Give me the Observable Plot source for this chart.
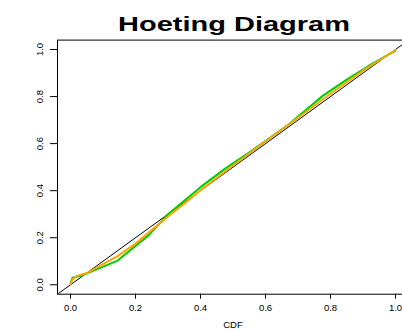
<!DOCTYPE html>
<html>
<head>
<meta charset="utf-8">
<script src="https://cdn.jsdelivr.net/npm/d3@7"></script>
<script src="https://cdn.jsdelivr.net/npm/@observablehq/plot@0.6"></script>
<style>
  html, body { margin: 0; padding: 0; overflow: hidden; background: #fff; }
  #title {
    box-sizing: border-box; width: 402px; height: 38px; padding-top: 12px; padding-left: 66px;
    text-align: center; font-family: "Liberation Sans", Arial, sans-serif; font-weight: bold;
    font-size: 21px; line-height: 24px; color: #000; white-space: nowrap;
  }
  #title span { display: inline-block; transform: scaleX(1.38); transform-origin: center; }
  #chart { width: 410px; height: 292px; }
  #chart svg { display: block; max-width: none !important; width: 410px; height: 292px; }
</style>
</head>
<body>
<div id="title"><span>Hoeting Diagram</span></div>
<div id="chart"></div>
<script>
const titleText = "Hoeting Diagram";
const xLabel = "CDF";
const axisDomain = [-0.04, 1.04];
const xTicks = [0, 0.2, 0.4, 0.6, 0.8, 1.0];
const yTicks = [0, 0.2, 0.4, 0.6, 0.8, 1.0];

// Green (empirical) series
const greenX = [0, 0.006, 0.04, 0.145, 0.24, 0.3, 0.4, 0.477, 0.554, 0.67, 0.778, 0.85, 0.917, 1.0];
const greenY = [0.005, 0.03, 0.042, 0.103, 0.21, 0.3, 0.415, 0.495, 0.566, 0.68, 0.805, 0.872, 0.93, 0.995];

// Orange (smoothed) series
const orangeX = [0, 0.006, 0.02, 0.05, 0.1, 0.145, 0.2, 0.26, 0.3, 0.35, 0.4, 0.5, 0.6, 0.7, 0.8, 0.9, 1.0];
const orangeY = [0.004, 0.022, 0.038, 0.05, 0.088, 0.122, 0.175, 0.245, 0.29, 0.345, 0.402, 0.507, 0.61, 0.71, 0.812, 0.91, 0.998];

const green = greenX.map((x, i) => ({x, y: greenY[i]}));
const orange = orangeX.map((x, i) => ({x, y: orangeY[i]}));
const diag = axisDomain.map(v => ({x: v, y: v}));
const fmt = d3.format(".1f");

const chart = Plot.plot({
  width: 410,
  height: 292,
  marginLeft: 57,
  marginRight: 2,
  marginTop: 1.6,
  marginBottom: 36.3,
  style: {fontFamily: "Liberation Sans, Arial, sans-serif", fontSize: "9.5px", color: "#000", background: "#fff"},
  x: {domain: axisDomain},
  y: {domain: axisDomain},
  marks: [
    Plot.line(diag, {x: "x", y: "y", stroke: "black", strokeWidth: 1, clip: true}),
    Plot.line(green, {x: "x", y: "y", stroke: "#00CD00", strokeWidth: 2}),
    Plot.line(orange, {x: "x", y: "y", stroke: "#FFA500", strokeWidth: 2}),
    Plot.frame({stroke: "black", strokeWidth: 1}),
    Plot.axisX({ticks: xTicks, tickSize: 5, tickPadding: 5.5, tickFormat: fmt, label: null, stroke: "black", fill: "black"}),
    Plot.axisY({ticks: yTicks, tickSize: 7, label: null, stroke: "black", fill: "none"}),
    Plot.text(yTicks, {y: d => d, frameAnchor: "left", dx: -17.5, rotate: -90, text: d => fmt(d), textAnchor: "middle", lineAnchor: "middle", fill: "black", fontSize: 9.5}),
    Plot.text([xLabel], {frameAnchor: "bottom", dy: 31, text: d => d, lineAnchor: "middle", fill: "black", fontSize: 9.5})
  ]
});
document.getElementById("chart").appendChild(chart);
</script>
</body>
</html>
